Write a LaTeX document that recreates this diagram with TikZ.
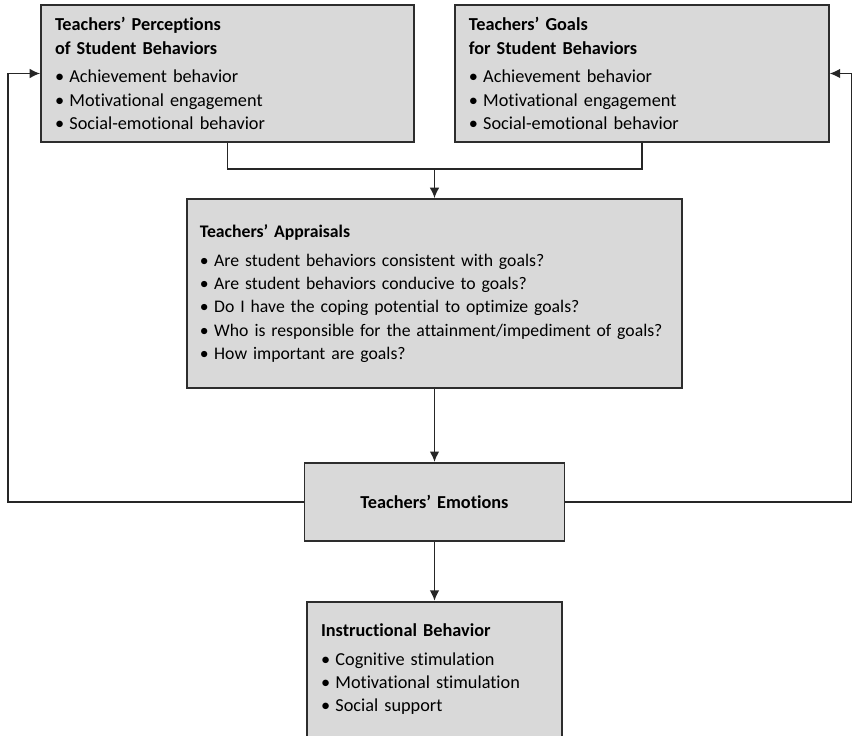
\documentclass[tikz,border=0pt]{standalone}
\usepackage{fontspec}
\setmainfont{Carlito}[Ligatures=NoCommon]
\usetikzlibrary{arrows.meta,calc,positioning}
\definecolor{boxgrey}{RGB}{217,217,217}
\definecolor{edgegrey}{RGB}{45,45,45}
\newcommand{\itm}{\makebox[0.36cm][l]{\textbullet}}

\begin{document}
\begin{tikzpicture}[
  font=\fontsize{13}{16.5}\selectfont,
  box/.style={draw=edgegrey,line width=1.3pt,fill=boxgrey,
              inner xsep=0.35cm,inner ysep=0pt,align=left},
  link/.style={line width=1pt,black!85},
  flow/.style={-{Latex[length=2.6mm,width=2.4mm]},line width=1pt,black!85}
]
\useasboundingbox (0,0) rectangle (21.3,18.375);

% --- Top row: perceptions and goals ---
\node[box,text width=8.625cm,minimum height=3.425cm] (perc) at (5.6875,16.5375)
  {\textbf{Teachers’ Perceptions}\\\textbf{of Student Behaviors}\\[4pt]
   \itm Achievement behavior\\
   \itm Motivational engagement\\
   \itm Social-emotional behavior};

\node[box,text width=8.65cm,minimum height=3.425cm,right=0.975cm of perc] (goals)
  {\textbf{Teachers’ Goals}\\\textbf{for Student Behaviors}\\[4pt]
   \itm Achievement behavior\\
   \itm Motivational engagement\\
   \itm Social-emotional behavior};

% --- Appraisals ---
\node[box,font=\fontsize{12.6}{16.5}\selectfont,inner xsep=0.32cm,text width=11.735cm,
      minimum height=4.725cm] (apprais) at (10.8625,11.0375)
  {\textbf{Teachers’ Appraisals}\\[4pt]
   \itm Are student behaviors consistent with goals?\\
   \itm Are student behaviors conducive to goals?\\
   \itm Do I have the coping potential to optimize goals?\\
   \mbox{\itm Who is responsible for the attainment/impediment of goals?}\\
   \itm How important are goals?};

% --- Emotions and instruction ---
\node[box,align=center,text width=5.8cm,minimum height=1.95cm,below=1.825cm of apprais] (emot)
  {\textbf{Teachers’ Emotions}};

\node[box,text width=5.675cm,minimum height=3.375cm,below=1.475cm of emot] (instr)
  {\textbf{Instructional Behavior}\\[4pt]
   \itm Cognitive stimulation\\
   \itm Motivational stimulation\\
   \itm Social support};

% --- Joining perceptions and goals ---
\coordinate (merge) at ($(apprais.north)+(0,0.725)$);
\draw[link] (perc.south) |- (merge);
\draw[link] (goals.south) |- (merge);
\draw[flow] (merge) -- (apprais.north);

% --- Downward arrows ---
\draw[flow] (apprais.south) -- (emot.north);
\draw[flow] (emot.south) -- (instr.north);

% --- Feedback from emotions ---
\coordinate (backL) at (0.2,0);
\coordinate (backR) at (21.28,0);
\draw[flow] (emot.west) -- (emot.west -| backL) |- (perc.west);
\draw[flow] (emot.east) -- (emot.east -| backR) |- (goals.east);
\end{tikzpicture}
\end{document}
